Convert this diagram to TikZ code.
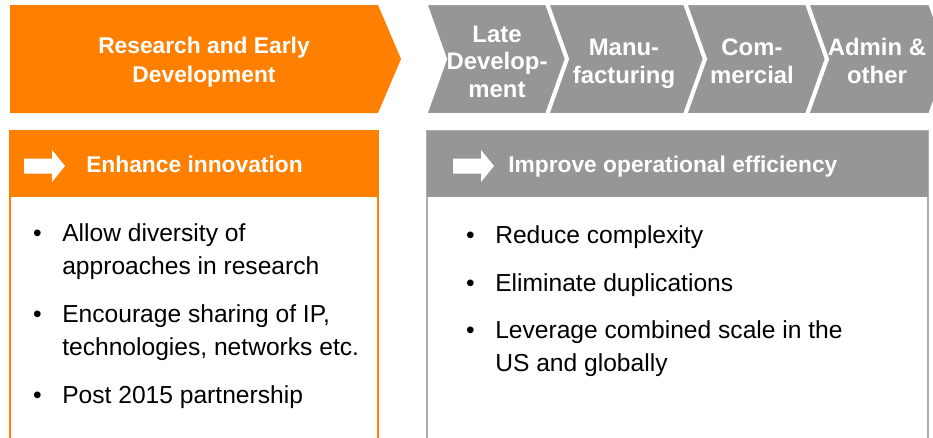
\documentclass[tikz,border=0pt]{standalone}
\usepackage{fontspec}
\setmainfont{Liberation Sans}
\usetikzlibrary{positioning}
\definecolor{phaseorange}{RGB}{255,128,0}
\definecolor{phasegrey}{RGB}{150,150,150}
\definecolor{framegrey}{RGB}{172,172,172}
\begin{document}
\begin{tikzpicture}[x=0.25mm, y=-0.25mm, line join=miter,
		chev/.style={fill=phasegrey, draw=white, line width=1mm},
		phase/.style={text=white, font=\fontsize{17}{19.5}\selectfont\bfseries, align=center, inner sep=0pt, anchor=base},
		head/.style={text=white, font=\fontsize{16.2}{20}\selectfont\bfseries, anchor=base west, inner sep=0pt},
		itm/.style={font=\fontsize{17.5}{22.8}\selectfont, align=left, inner sep=0pt, anchor=base west},
		dot/.style={font=\fontsize{17.5}{22.8}\selectfont, inner sep=0pt},
		pics/harrow/.style={code={\fill[white] (0,-7.5) -- (28,-7.5) -- (28,-16) -- (41,0) -- (28,16) -- (28,7.5) -- (0,7.5) -- cycle;}}]
		\useasboundingbox (0,0) rectangle (933,437);
		% phases (base = last line)
		\fill[phaseorange] (10,5) -- (378,5) -- (401,59) -- (378,113) -- (10,113) -- cycle;
		\node[phase, font=\fontsize{16.2}{20.2}\selectfont\bfseries] (red) at (204,82) {Research and Early\\Development};
		\begin{scope}
			\clip (0,0) rectangle (933,437);
			\foreach \l/\r in {425/547,547/685,685/807,807/930}
			\filldraw[chev] (\l,3) -- (\r,3) -- (\r+20,59) -- (\r,115) -- (\l,115) -- (\l+20,59) -- cycle;
		\end{scope}
		\node[phase] (late) at (497,97) {Late\\Develop-\\ment};
		\node[phase] (manu) at (624,83) {Manu-\\facturing};
		\node[phase] (comm) at (752,83) {Com-\\mercial};
		\node[phase] (admin) at (877,83) {Admin \&\\other};
		% boxes
		\filldraw[draw=phaseorange, fill=white, line width=0.4mm] (10,131) rectangle (378,445);
		\fill[phaseorange] (10,131) rectangle (378,197);
		\filldraw[draw=framegrey, fill=white, line width=0.4mm] (427,131) rectangle (928,445);
		\fill[phasegrey] (427,131) rectangle (928,197);
		\pic at (24,166) {harrow};
		\pic at (453,166) {harrow};
		\node[head] (enh) at (86,172) {Enhance innovation};
		\node[head] (imp) at (508,172) {Improve operational efficiency};
		% bullets (base = last line)
		\node[itm] (r1) at (62,274) {Allow diversity of\\approaches in research};
		\node[itm] (r2) at (62,355) {Encourage sharing of IP,\\technologies, networks etc.};
		\node[itm] (r3) at (62,403) {Post 2015 partnership};
		\node[itm] (o1) at (495,243) {Reduce complexity};
		\node[itm] (o2) at (495,291) {Eliminate duplications};
		\node[itm] (o3) at (495,371) {Leverage combined scale in the\\US and globally};
		\foreach \n/\s in {r1/22.8pt,r2/22.8pt,r3/0pt,o1/0pt,o2/0pt,o3/22.8pt}
		\node[dot, base left=5mm of \n, yshift=\s] (\n b) {\textbullet};
\end{tikzpicture}
\end{document}
